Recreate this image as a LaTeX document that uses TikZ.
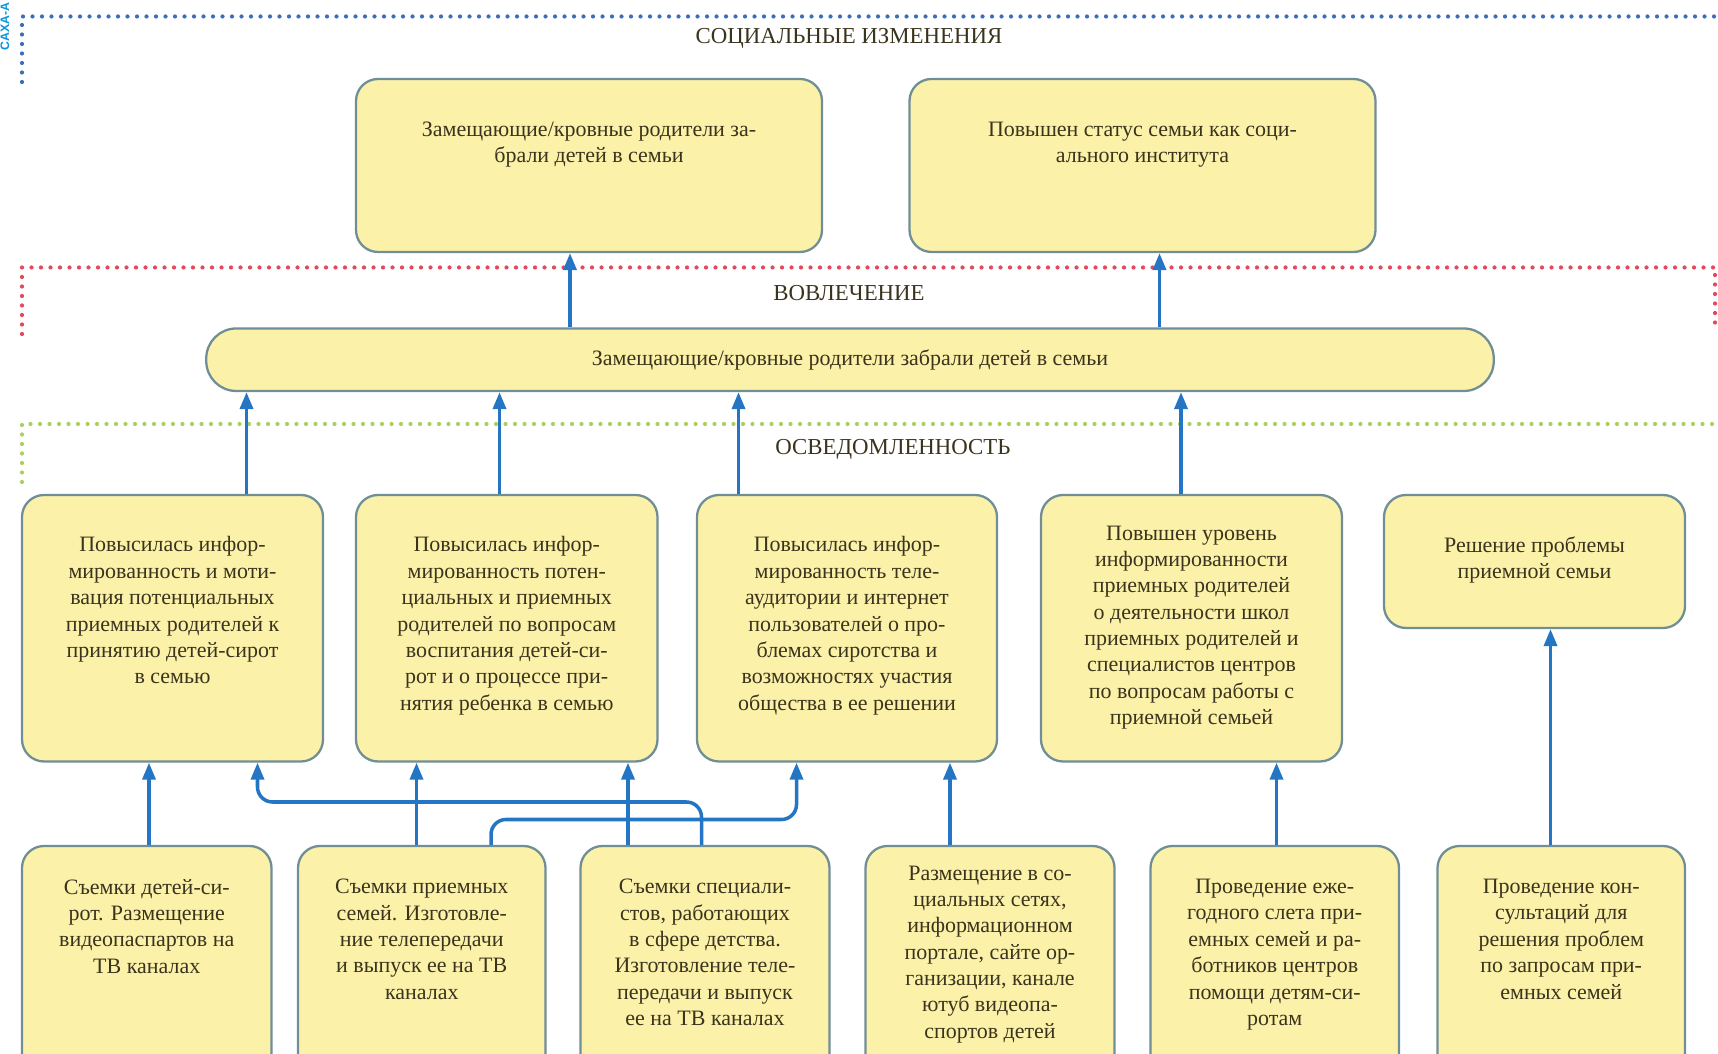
\documentclass[tikz,border=0pt]{standalone}
\usepackage{fontspec}
\setmainfont{Liberation Serif}
\newfontfamily\tagfont{Liberation Sans}
\usetikzlibrary{positioning,arrows.meta}
\definecolor{boxfill}{RGB}{252,241,168}
\definecolor{boxline}{RGB}{112,142,150}
\definecolor{arrowblue}{RGB}{36,118,196}
\definecolor{inkdark}{RGB}{58,52,30}
\definecolor{dotblue}{RGB}{60,110,185}
\definecolor{dotred}{RGB}{228,72,92}
\definecolor{dotgreen}{RGB}{172,208,96}
\tikzset{
  cell/.style={draw=boxline, fill=boxfill, line width=1.3pt, rounded corners=0.44cm, inner sep=0pt},
  celltext/.style={text=inkdark, align=center, font=\fontsize{12.5}{15}\selectfont, inner sep=0pt},
  level/.style={text=inkdark, font=\fontsize{13}{15}\selectfont},
  arr/.style={draw=arrowblue, line width=2pt, -{Triangle[length=0.34cm,width=0.26cm]}},
  border/.style={line width=2.4pt, line cap=round, dash pattern=on 0pt off 0.19cm}
}

\begin{document}
\begin{tikzpicture}
	\clip (0,0) rectangle (34.36,21.08);

	% level borders
	\draw[border, dotblue] (0.44,19.44) -- (0.44,20.75) -- (34.6,20.75);
	\draw[border, dotred] (0.44,14.40) -- (0.44,15.73) -- (34.30,15.73) -- (34.30,14.60);
	\draw[border, dotgreen] (0.44,11.44) -- (0.44,12.60) -- (34.6,12.60);
	\node[rotate=90, text=cyan!80!blue, font=\tagfont\bfseries\fontsize{7}{8}\selectfont] (tag) at (0.10,20.55) {САХА-А};

	\node[level] (lsoc) at (16.98,20.31) {СОЦИАЛЬНЫЕ ИЗМЕНЕНИЯ};
	\node[level] (linv) at (16.98,15.21) {ВОВЛЕЧЕНИЕ};
	\node[level] (laware) at (17.86,12.10) {ОСВЕДОМЛЕННОСТЬ};

	% social changes
	\node[cell, minimum width=9.32cm, minimum height=3.46cm] (top1) at (11.78,17.77) {};
	\node[celltext, below=0.87cm of top1.north] (top1t) {Замещающие/кровные родители за-\\брали детей в семьи};
	\node[cell, minimum width=9.32cm, minimum height=3.46cm] (top2) at (22.85,17.77) {};
	\node[celltext, below=0.87cm of top2.north] (top2t) {Повышен статус семьи как соци-\\ального института};

	% involvement
	\node[cell, rounded corners=0.6cm, minimum width=25.75cm, minimum height=1.25cm, celltext] (mid) at (17.0,13.885) {Замещающие/кровные родители забрали детей в семьи};

	% awareness
	\node[cell, minimum width=6.02cm, minimum height=5.33cm] (nA) at (3.45,8.515) {};
	\node[celltext, below=0.85cm of nA.north] (nAt) {Повысилась инфор-\\мированность и моти-\\вация потенциальных\\приемных родителей к\\принятию детей-сирот\\в семью};
	\node[cell, minimum width=6.03cm, minimum height=5.33cm] (nB) at (10.135,8.515) {};
	\node[celltext, below=0.85cm of nB.north] (nBt) {Повысилась инфор-\\мированность потен-\\циальных и приемных\\родителей по вопросам\\воспитания детей-си-\\рот и о процессе при-\\нятия ребенка в семью};
	\node[cell, minimum width=6.0cm, minimum height=5.33cm] (nC) at (16.94,8.515) {};
	\node[celltext, below=0.85cm of nC.north] (nCt) {Повысилась инфор-\\мированность теле-\\аудитории и интернет\\пользователей о про-\\блемах сиротства и\\возможностях участия\\общества в ее решении};
	\node[cell, minimum width=6.02cm, minimum height=5.33cm] (nD) at (23.83,8.515) {};
	\node[celltext, below=0.63cm of nD.north] (nDt) {Повышен уровень\\информированности\\приемных родителей\\о деятельности школ\\приемных родителей и\\специалистов центров\\по вопросам работы с\\приемной семьей};
	\node[cell, minimum width=6.02cm, minimum height=2.66cm] (nE) at (30.69,9.85) {};
	\node[celltext, below=0.85cm of nE.north] (nEt) {Решение проблемы\\приемной семьи};

	% activities
	\node[cell, minimum width=4.99cm, minimum height=4.66cm] (aF) at (2.935,1.83) {};
	\node[celltext, below=0.68cm of aF.north] (aFt) {Съемки детей-си-\\рот. Размещение\\видеопаспартов на\\ТВ каналах};
	\node[cell, minimum width=4.95cm, minimum height=4.66cm] (aG) at (8.435,1.83) {};
	\node[celltext, below=0.68cm of aG.north] (aGt) {Съемки приемных\\семей. Изготовле-\\ние телепередачи\\и выпуск ее на ТВ\\каналах};
	\node[cell, minimum width=4.98cm, minimum height=4.66cm] (aH) at (14.10,1.83) {};
	\node[celltext, below=0.68cm of aH.north] (aHt) {Съемки специали-\\стов, работающих\\в сфере детства.\\Изготовление теле-\\передачи и выпуск\\ее на ТВ каналах};
	\node[cell, minimum width=4.98cm, minimum height=4.66cm] (aI) at (19.80,1.83) {};
	\node[celltext, below=0.41cm of aI.north] (aIt) {Размещение в со-\\циальных сетях,\\информационном\\портале, сайте ор-\\ганизации, канале\\ютуб видеопа-\\спортов детей};
	\node[cell, minimum width=4.97cm, minimum height=4.66cm] (aJ) at (25.495,1.83) {};
	\node[celltext, below=0.68cm of aJ.north] (aJt) {Проведение еже-\\годного слета при-\\емных семей и ра-\\ботников центров\\помощи детям-си-\\ротам};
	\node[cell, minimum width=4.95cm, minimum height=4.66cm] (aK) at (31.225,1.83) {};
	\node[celltext, below=0.68cm of aK.north] (aKt) {Проведение кон-\\сультаций для\\решения проблем\\по запросам при-\\емных семей};

	% connectors
	\draw[arr] (11.40,0 |- mid.north) -- (11.40,0 |- top1.south);
	\draw[arr] (23.19,0 |- mid.north) -- (23.19,0 |- top2.south);
	\draw[arr] (4.93,0 |- nA.north) -- (4.93,0 |- mid.south);
	\draw[arr] (9.99,0 |- nB.north) -- (9.99,0 |- mid.south);
	\draw[arr] (14.77,0 |- nC.north) -- (14.77,0 |- mid.south);
	\draw[arr] (23.62,0 |- nD.north) -- (23.62,0 |- mid.south);
	\draw[arr] (2.98,0 |- aF.north) -- (2.98,0 |- nA.south);
	\draw[arr] (8.33,0 |- aG.north) -- (8.33,0 |- nB.south);
	\draw[arr] (12.56,0 |- aH.north) -- (12.56,0 |- nB.south);
	\draw[arr] (19.00,0 |- aI.north) -- (19.00,0 |- nC.south);
	\draw[arr] (25.53,0 |- aJ.north) -- (25.53,0 |- nD.south);
	\draw[arr] (31.01,0 |- aK.north) -- (31.01,0 |- nE.south);
	\draw[arr, rounded corners=0.3cm] (14.03,0 |- aH.north) |- (5.15,5.04) -- (5.15,0 |- nA.south);
	\draw[arr, rounded corners=0.3cm] (9.82,0 |- aG.north) |- (15.93,4.69) -- (15.93,0 |- nC.south);
\end{tikzpicture}
\end{document}
